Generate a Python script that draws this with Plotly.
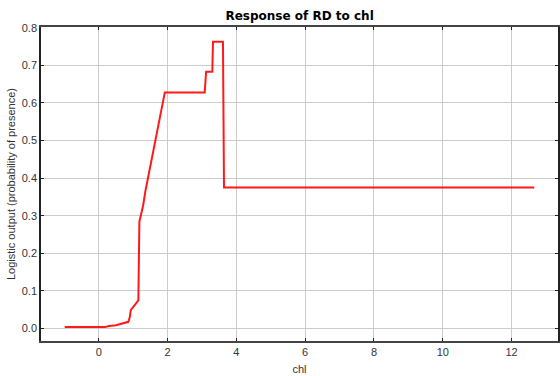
import plotly.graph_objects as go

chl = [-0.99, 0.18, 0.30, 0.50, 0.86, 0.90, 0.93, 1.15, 1.18, 1.29, 1.36, 1.92, 3.08, 3.12, 3.30, 3.32, 3.61, 3.64, 12.66]
resp = [0.004, 0.004, 0.007, 0.009, 0.018, 0.030, 0.049, 0.075, 0.284, 0.328, 0.368, 0.628, 0.628, 0.683, 0.683, 0.763, 0.763, 0.375, 0.375]

x_ticks = [0, 2, 4, 6, 8, 10, 12]
y_ticks = [0.0, 0.1, 0.2, 0.3, 0.4, 0.5, 0.6, 0.7, 0.8]
y_labels = [f"{v:.1f}" for v in y_ticks]

fig = go.Figure()
fig.add_trace(go.Scatter(x=chl, y=resp, mode="lines",
                         line=dict(color="rgba(255,0,0,0.9)", width=2),
                         showlegend=False, hoverinfo="skip"))

font = "Liberation Sans, Arial, sans-serif"
fig.update_layout(
    width=560, height=376,
    margin=dict(l=41, r=0, t=27, b=35),
    paper_bgcolor="white", plot_bgcolor="white",
    title=dict(text="<b>Response of RD to chl</b>", x=0.535, xanchor="center",
               y=1 - 16 / 376, yanchor="middle",
               font=dict(family="DejaVu Sans, sans-serif", size=12, color="black")),
    font=dict(family=font, size=11, color="#333"),
)
fig.update_xaxes(range=[-1.68, 13.35], tickvals=x_ticks, ticktext=[str(v) for v in x_ticks],
                 showgrid=True, gridcolor="#cccccc", gridwidth=1, zeroline=False,
                 showline=True, linecolor="#444", linewidth=1.5, mirror="ticks",
                 ticks="inside", ticklen=3, tickcolor="#222",
                 title=dict(text="chl", standoff=8, font=dict(size=11, color="#333")))
fig.update_yaxes(range=[-0.033, 0.802], tickvals=y_ticks, ticktext=y_labels,
                 showgrid=True, gridcolor="#cccccc", gridwidth=1, zeroline=False,
                 showline=True, linecolor="#222", linewidth=1.5, mirror="ticks",
                 ticks="inside", ticklen=3, tickcolor="#222",
                 title=dict(text="Logistic output (probability of presence)", standoff=4,
                            font=dict(size=11, color="#333")))

fig.write_html("out.html")
